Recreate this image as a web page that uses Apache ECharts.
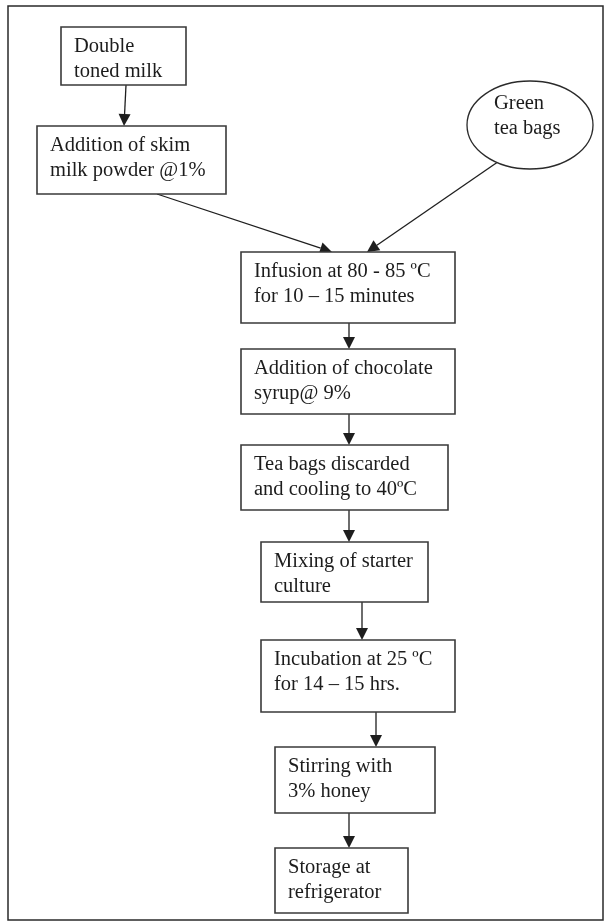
<!DOCTYPE html>
<html>
<head>
<meta charset="utf-8">
<script src="https://cdn.jsdelivr.net/npm/echarts@6/dist/echarts.min.js"></script>
<style>
  html, body { margin: 0; padding: 0; background: #fff; }
  #chart { width: 605px; height: 923px; }
</style>
</head>
<body>
<div id="chart"></div>
<script>
// process steps, top to bottom
var steps = [
  'Double\ntoned milk',
  'Addition of skim\nmilk powder @1%',
  'Infusion at 80 - 85 \u00baC\nfor 10 \u2013 15 minutes',
  'Addition of chocolate\nsyrup@ 9%',
  'Tea bags discarded\nand cooling to 40\u00baC',
  'Mixing of starter\nculture',
  'Incubation at 25 \u00baC\nfor 14 \u2013 15 hrs.',
  'Stirring with\n3% honey',
  'Storage at\nrefrigerator'
];
var sourceLabel = 'Green\ntea bags';
// flow links: [from, to]  ('src' = the green tea ellipse)
var links = [[0, 1], [1, 2], ['src', 2], [2, 3], [3, 4], [4, 5], [5, 6], [6, 7], [7, 8]];

// layout (pixels of the 605x923 page): box = [left, top, right, bottom]
var boxLayout = [
  [61, 27, 186, 85],
  [37, 126, 226, 194],
  [241, 252, 455, 323],
  [241, 349, 455, 414],
  [241, 445, 448, 510],
  [261, 542, 428, 602],
  [261, 640, 455, 712],
  [275, 747, 435, 813],
  [275, 848, 408, 913]
];
var sourceLayout = { cx: 530, cy: 125, rx: 63, ry: 44 };
// x where each link leaves / arrives
var linkX = [[126, 124], [157, 332], [497, 367], [349, 349], [349, 349], [349, 349], [362, 362], [376, 376], [349, 349]];

var FONT = '"Liberation Serif", "Times New Roman", serif';
var TEXT_COLOR = '#1c1c1c';

function startPoint(from, x) {
  if (from === 'src') {
    var s = sourceLayout;
    var dx = (x - s.cx) / s.rx;
    return [x, s.cy + s.ry * Math.sqrt(Math.max(0, 1 - dx * dx))];
  }
  return [x, boxLayout[from][3]];
}

var linkData = links.map(function (l, i) {
  var a = startPoint(l[0], linkX[i][0]);
  return [a[0], a[1], linkX[i][1], boxLayout[l[1]][1]];
});

var boxData = steps.map(function (s, i) {
  return { name: s, value: boxLayout[i] };
});

var chart = echarts.init(document.getElementById('chart'));
chart.setOption({
  animation: false,
  grid: {
    left: 8, top: 6, right: 2, bottom: 3,
    show: true, borderColor: '#2a2a2a', borderWidth: 1.5, backgroundColor: '#fff'
  },
  xAxis: { type: 'value', min: 8, max: 603, show: false },
  yAxis: { type: 'value', min: 6, max: 920, inverse: true, show: false },
  series: [
    {
      // arrows
      type: 'custom',
      coordinateSystem: 'cartesian2d',
      data: linkData,
      renderItem: function (params, api) {
        var p1 = api.coord([api.value(0), api.value(1)]);
        var p2 = api.coord([api.value(2), api.value(3)]);
        var dx = p2[0] - p1[0], dy = p2[1] - p1[1];
        var len = Math.sqrt(dx * dx + dy * dy);
        var ux = dx / len, uy = dy / len;
        var L = 12, W = 6;
        var bx = p2[0] - ux * L, by = p2[1] - uy * L;
        return {
          type: 'group',
          children: [
            {
              type: 'line',
              shape: { x1: p1[0], y1: p1[1], x2: bx, y2: by },
              style: { stroke: '#1e1e1e', lineWidth: 1.3 }
            },
            {
              type: 'polygon',
              shape: { points: [p2, [bx - uy * W, by + ux * W], [bx + uy * W, by - ux * W]] },
              style: { fill: '#1e1e1e' }
            }
          ]
        };
      }
    },
    {
      // boxes
      type: 'custom',
      coordinateSystem: 'cartesian2d',
      data: boxData,
      renderItem: function (params, api) {
        var tl = api.coord([api.value(0), api.value(1)]);
        var br = api.coord([api.value(2), api.value(3)]);
        return {
          type: 'group',
          children: [
            {
              type: 'rect',
              shape: { x: tl[0], y: tl[1], width: br[0] - tl[0], height: br[1] - tl[1] },
              style: { fill: '#fff', stroke: '#3a3a3a', lineWidth: 1.6 }
            },
            {
              type: 'text',
              x: tl[0] + 13,
              y: tl[1] + 7,
              style: {
                text: steps[params.dataIndex],
                fontFamily: FONT, fontSize: 20.5, lineHeight: 25,
                fill: TEXT_COLOR, align: 'left', verticalAlign: 'top'
              }
            }
          ]
        };
      }
    },
    {
      // green tea source
      type: 'custom',
      coordinateSystem: 'cartesian2d',
      data: [[sourceLayout.cx, sourceLayout.cy]],
      renderItem: function (params, api) {
        var c = api.coord([api.value(0), api.value(1)]);
        var s = sourceLayout;
        return {
          type: 'group',
          children: [
            {
              type: 'ellipse',
              shape: { cx: c[0], cy: c[1], rx: s.rx, ry: s.ry },
              style: { fill: '#fff', stroke: '#2a2a2a', lineWidth: 1.3 }
            },
            {
              type: 'text',
              x: c[0] - 36,
              y: c[1] - 34,
              style: {
                text: sourceLabel,
                fontFamily: FONT, fontSize: 20.5, lineHeight: 25,
                fill: TEXT_COLOR, align: 'left', verticalAlign: 'top'
              }
            }
          ]
        };
      }
    }
  ]
});
</script>
</body>
</html>
